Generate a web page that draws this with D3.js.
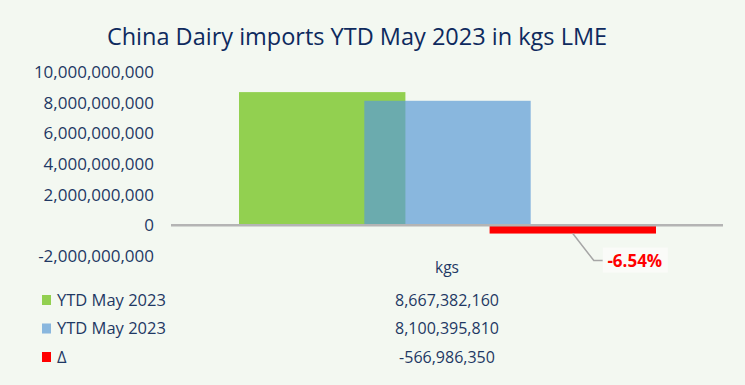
<!DOCTYPE html>
<html><head><meta charset="utf-8">
<script src="https://cdn.jsdelivr.net/npm/d3@7"></script>
<style>
html,body{margin:0;padding:0;background:#F3F8F1;}
svg{display:block;font-family:"Open Sans",sans-serif;}
</style></head>
<body><svg id="c" width="745" height="385"></svg>
<script>
const title = "China Dairy imports YTD May 2023 in kgs LME";
const categories = ["kgs"];
const seriesNames = ["YTD May 2023", "YTD May 2023", "Δ"];
const seriesKeys = ["a", "b", "d"];
const seriesValues = [8667382160, 8100395810, -566986350];
const seriesColors = ["#92D050", "#5B9BD5", "#FF0000"];
const seriesOpacity = [1, 0.7, 1];
const yTicks = [-2e9, 0, 2e9, 4e9, 6e9, 8e9, 1e10];
const deltaLabel = "-6.54%";

const navy = "#1F3864";
const svg = d3.select("#c");
const fmt = d3.formatLocale({decimal: ".", thousands: ",", grouping: [3], currency: ["", ""], minus: "-"}).format(",");

svg.append("text").attr("x", 357).attr("y", 45).attr("text-anchor", "middle")
  .attr("fill", "#0E2A5E").style("font-size", "23.5px").text(title);

const y = d3.scaleLinear().domain([-2e9, 1e10]).range([255.5, 71.7]);
const x0 = d3.scaleBand().domain(categories).range([171, 723]);
const xs = d3.scaleBand().domain(seriesKeys).range([239, 656]).paddingInner(-0.328).paddingOuter(0);

// y axis labels
const yAxis = d3.axisLeft(y).tickValues(yTicks).tickSize(0).tickPadding(0).tickFormat(fmt);
const ga = svg.append("g").attr("transform", "translate(154,0)").call(yAxis);
ga.select(".domain").remove();
ga.selectAll("text").attr("fill", navy).style("font-size", "17px").attr("dy", "0.35em")
  .style("font-family", "\"Open Sans\",sans-serif");

// bars
svg.append("g").selectAll("rect").data(seriesValues).join("rect")
  .attr("x", (d, i) => xs(seriesKeys[i]))
  .attr("width", xs.bandwidth())
  .attr("y", d => y(Math.max(0, d)))
  .attr("height", d => Math.abs(y(d) - y(0)))
  .attr("fill", (d, i) => seriesColors[i])
  .attr("fill-opacity", (d, i) => seriesOpacity[i]);

// zero line
svg.append("line").attr("x1", x0.range()[0]).attr("x2", x0.range()[1])
  .attr("y1", y(0) + 0.5).attr("y2", y(0) + 0.5).attr("stroke", "#B4B4B4").attr("stroke-width", 2.5);

// delta label with leader
const dx = xs("d") + xs.bandwidth() / 2;
const dyb = y(seriesValues[2]);
svg.append("polyline").attr("points", `${dx},${dyb} ${dx + 21},${dyb + 27} ${dx + 30},${dyb + 27}`)
  .attr("fill", "none").attr("stroke", "#A6A6A6").attr("stroke-width", 1.5);
svg.append("rect").attr("x", dx + 30).attr("y", dyb + 14).attr("width", 65).attr("height", 25)
  .attr("fill", "#FAFBF8");
svg.append("text").attr("x", dx + 62).attr("y", dyb + 27).attr("dy", "0.35em").attr("text-anchor", "middle")
  .attr("fill", "#FF0000").style("font-size", "17px").style("font-weight", "bold").text(deltaLabel);

// category label
svg.append("text").attr("x", x0(categories[0]) + x0.bandwidth() / 2).attr("y", 268).attr("dy", "0.35em")
  .attr("text-anchor", "middle").attr("fill", navy).style("font-size", "15.5px").text(categories[0]);

// data table
const rowY = [300, 328.5, 357];
const rows = svg.append("g").selectAll("g").data(seriesValues).join("g")
  .attr("transform", (d, i) => `translate(0,${rowY[i]})`);
rows.append("rect").attr("x", 42).attr("y", -5).attr("width", 9).attr("height", 10)
  .attr("fill", (d, i) => seriesColors[i]).attr("fill-opacity", (d, i) => seriesOpacity[i]);
rows.append("text").attr("x", 57).attr("dy", "0.35em").attr("fill", navy).style("font-size", "16.5px")
  .text((d, i) => seriesNames[i]);
rows.append("text").attr("x", x0(categories[0]) + x0.bandwidth() / 2).attr("dy", "0.35em")
  .attr("text-anchor", "middle").attr("fill", navy).style("font-size", "16px").text(d => fmt(d));
</script></body></html>
